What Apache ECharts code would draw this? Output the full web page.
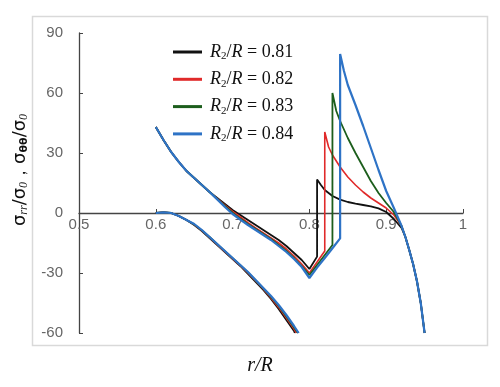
<!DOCTYPE html>
<html>
<head>
<meta charset="utf-8">
<script src="https://cdn.jsdelivr.net/npm/echarts@6/dist/echarts.min.js"></script>
<style>html,body{margin:0;padding:0;background:#fff}#c{width:500px;height:387px}</style>
</head>
<body>
<div id="c"></div>
<script>
// ---- data ----
const seriesNames = ['0.81', '0.82', '0.83', '0.84'];
const seriesColors = ['#111111', '#e02a2a', '#1c5e1c', '#2e73c6'];
const xTickLabels = ['0.5', '0.6', '0.7', '0.8', '0.9', '1'];
const yTickLabels = ['-60', '-30', '0', '30', '60', '90'];

// upper branch (sigma_theta_theta)
const upper081 = [[0.60,43],[0.61,36.5],[0.62,30.5],[0.63,25.5],[0.64,21],[0.65,17.5],[0.66,14],[0.67,10.5],[0.68,7.5],[0.69,4.5],[0.70,1.5],[0.71,-1],[0.72,-3.5],[0.73,-6],[0.74,-8.5],[0.75,-11],[0.76,-13.5],[0.77,-16.5],[0.78,-20],[0.79,-23.5],[0.80,-28],[0.81,-21.8],[0.81,16.8],[0.815,14],[0.82,11.5],[0.83,8.5],[0.84,6.7],[0.85,5.5],[0.86,4.7],[0.87,4],[0.88,3.3],[0.89,2.3],[0.90,0.5],[0.91,-3],[0.92,-7.5],[0.925,-12],[0.93,-18.5],[0.935,-25.5],[0.94,-34],[0.945,-45],[0.95,-60]];
const upper082 = [[0.60,43],[0.61,36.5],[0.62,30.5],[0.63,25.5],[0.64,21],[0.65,17.5],[0.66,14],[0.67,10.5],[0.68,7.2],[0.69,4],[0.70,0.8],[0.71,-2],[0.72,-4.8],[0.73,-7.5],[0.74,-10],[0.75,-12.5],[0.76,-15],[0.77,-18],[0.78,-21.5],[0.79,-25.5],[0.80,-30],[0.81,-24.5],[0.82,-19],[0.82,40.5],[0.825,33],[0.83,29],[0.84,23],[0.85,18],[0.86,14],[0.87,10.5],[0.88,7.5],[0.89,5],[0.90,2.5],[0.91,-1],[0.92,-6.5],[0.925,-12],[0.93,-18.5],[0.935,-25.5],[0.94,-34],[0.945,-45],[0.95,-60]];
const upper083 = [[0.60,43],[0.61,36.5],[0.62,30.5],[0.63,25.5],[0.64,21],[0.65,17.5],[0.66,14],[0.67,10.5],[0.68,7],[0.69,3.5],[0.70,0.2],[0.71,-2.8],[0.72,-5.5],[0.73,-8],[0.74,-10.5],[0.75,-13],[0.76,-16],[0.77,-19],[0.78,-22.5],[0.79,-26.5],[0.80,-31],[0.81,-26],[0.82,-21],[0.83,-16],[0.83,60],[0.835,51],[0.84,46],[0.85,37.5],[0.86,30],[0.87,23],[0.88,16],[0.89,10],[0.90,5],[0.91,0.5],[0.92,-6.5],[0.925,-12],[0.93,-18.5],[0.935,-25.5],[0.94,-34],[0.945,-45],[0.95,-60]];
const upper084 = [[0.60,43],[0.61,36.5],[0.62,30.5],[0.63,25.5],[0.64,21],[0.65,17.5],[0.66,14],[0.67,10.5],[0.68,6.8],[0.69,3],[0.70,-0.5],[0.71,-3.3],[0.72,-6],[0.73,-8.5],[0.74,-11],[0.75,-13.5],[0.76,-16.5],[0.77,-19.5],[0.78,-23],[0.79,-27],[0.80,-32.5],[0.81,-27.3],[0.82,-22.5],[0.83,-17.6],[0.84,-12.7],[0.84,79.5],[0.845,71],[0.85,64],[0.86,54],[0.87,43.5],[0.88,32.5],[0.89,21.5],[0.90,11],[0.91,2.5],[0.915,-2],[0.92,-6.5],[0.925,-12],[0.93,-18.5],[0.935,-25.5],[0.94,-34],[0.945,-45],[0.95,-60]];

// lower branch (sigma_rr)
const lower081 = [[0.60,0],[0.61,0.3],[0.62,0],[0.63,-1.5],[0.64,-3.5],[0.65,-6],[0.66,-9],[0.67,-12.5],[0.68,-16],[0.69,-19.5],[0.70,-23],[0.71,-26.5],[0.72,-30.5],[0.73,-34.5],[0.74,-38.5],[0.75,-43],[0.76,-48],[0.77,-53.5],[0.78,-59],[0.781,-60]];
const lower082 = [[0.60,0],[0.61,0.3],[0.62,0],[0.63,-1.5],[0.64,-3.5],[0.65,-5.8],[0.66,-8.8],[0.67,-12.2],[0.68,-15.8],[0.69,-19.3],[0.70,-22.8],[0.71,-26.3],[0.72,-30],[0.73,-34],[0.74,-38],[0.75,-42.5],[0.76,-47.2],[0.77,-52.5],[0.78,-58],[0.783,-60]];
const lower083 = [[0.60,0],[0.61,0.3],[0.62,0],[0.63,-1.5],[0.64,-3.5],[0.65,-5.7],[0.66,-8.7],[0.67,-12],[0.68,-15.6],[0.69,-19.1],[0.70,-22.6],[0.71,-26.1],[0.72,-29.7],[0.73,-33.7],[0.74,-37.7],[0.75,-42],[0.76,-46.5],[0.77,-51.7],[0.78,-57.2],[0.785,-60]];
const lower084 = [[0.60,0],[0.61,0.3],[0.62,0],[0.63,-1.5],[0.64,-3.5],[0.65,-5.5],[0.66,-8.5],[0.67,-12],[0.68,-15.5],[0.69,-19],[0.70,-22.5],[0.71,-26],[0.72,-29.5],[0.73,-33.5],[0.74,-37.5],[0.75,-41.5],[0.76,-46],[0.77,-51],[0.78,-56.5],[0.786,-60]];

const uppers = [upper081, upper082, upper083, upper084];
const lowers = [lower081, lower082, lower083, lower084];
const lineWidths = [1.8, 1.6, 1.8, 2.2];

// ---- chart ----
const chart = echarts.init(document.getElementById('c'), null, {renderer: 'canvas'});
const series = [];
seriesNames.forEach((n, i) => {
  const common = {
    name: n, type: 'line', showSymbol: false, symbol: 'none', silent: true,
    lineStyle: {color: seriesColors[i], width: lineWidths[i]},
    itemStyle: {color: seriesColors[i]},
    z: 2 + i, animation: false
  };
  series.push(Object.assign({}, common, {data: lowers[i]}));
  series.push(Object.assign({}, common, {data: uppers[i]}));
});

const labelFont = {color: '#666666', fontSize: 15, fontFamily: 'Liberation Sans, Arial, sans-serif'};
const serif = 'Liberation Serif, DejaVu Serif, serif';

const gridTop = 33, gridBottom = 54, chartH = 387;
const yMin = -60, yMax = 90;
// distance (px) from grid bottom edge up to the y = 0 line
const zeroOffset = (0 - yMin) / (yMax - yMin) * (chartH - gridTop - gridBottom);

chart.setOption({
  animation: false,
  backgroundColor: '#ffffff',
  grid: {left: 79, right: 37, top: gridTop, bottom: gridBottom, containLabel: false},
  xAxis: {
    type: 'value', min: 0.5, max: 1, interval: 0.1,
    position: 'bottom', offset: -zeroOffset,
    axisLine: {onZero: false, lineStyle: {color: '#444', width: 1.3}},
    axisTick: {show: true, inside: true, length: 4, lineStyle: {color: '#444'}},
    axisLabel: Object.assign({margin: 4, formatter: (v) => xTickLabels[Math.round((v - 0.5) * 10)]}, labelFont),
    splitLine: {show: false}
  },
  yAxis: {
    type: 'value', min: yMin, max: yMax, interval: 30,
    axisLine: {show: true, onZero: false, lineStyle: {color: '#444', width: 1.3}},
    axisTick: {show: true, inside: true, length: 4, lineStyle: {color: '#444'}},
    axisLabel: Object.assign({margin: 16, formatter: (v) => yTickLabels[Math.round((v + 60) / 30)]}, labelFont),
    splitLine: {show: false}
  },
  legend: {
    data: seriesNames,
    orient: 'vertical', left: 168, top: 38,
    itemWidth: 29, itemHeight: 3, icon: 'rect', itemGap: 8.3,
    selectedMode: false,
    formatter: (n) => '{i|R}{s|2}{n|/}{i|R}{n| = ' + n + '}',
    textStyle: {
      padding: [0, 0, 0, 3],
      rich: {
        i: {fontFamily: serif, fontStyle: 'italic', fontSize: 18, color: '#111', lineHeight: 20},
        s: {fontFamily: serif, fontSize: 11, color: '#111', verticalAlign: 'bottom', lineHeight: 20, padding: [8, 0, 0, 0]},
        n: {fontFamily: serif, fontSize: 18, color: '#111', lineHeight: 20}
      }
    }
  },
  graphic: [
    {type: 'rect', left: 30, top: 14, shape: {width: 455, height: 329}, style: {fill: 'none', stroke: '#d9d9d9', lineWidth: 1.5}, z: 0, silent: true},
    {type: 'text', x: 20, y: 170, rotation: Math.PI / 2,
      style: {
        text: '{g|σ}{sub|rr}{g|/σ}{sub|0}{g|，σ}{subb|θθ}{g|/σ}{sub|0}',
        align: 'center', verticalAlign: 'middle',
        rich: {
          g: {fontFamily: 'DejaVu Sans, sans-serif', fontSize: 18, fill: '#111'},
          sub: {fontFamily: serif, fontStyle: 'italic', fontSize: 12, fill: '#111', padding: [8, 0, 0, 0]},
          subb: {fontFamily: 'DejaVu Sans, sans-serif', fontWeight: 'bold', fontSize: 11, fill: '#111', padding: [8, 0, 0, 0]}
        }
      }, silent: true},
    {type: 'text', x: 260, y: 366,
      style: {text: 'r/R', fontFamily: serif, fontStyle: 'italic', fontSize: 20, fill: '#111', align: 'center', verticalAlign: 'middle'}, silent: true}
  ],
  series: series
});
</script>
</body>
</html>
